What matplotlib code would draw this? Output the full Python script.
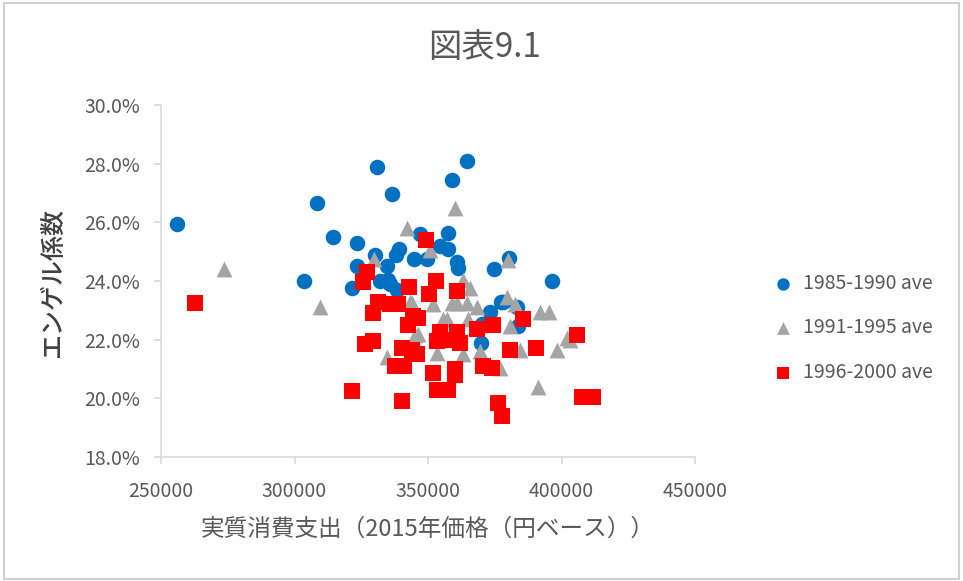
import matplotlib
matplotlib.use("Agg")
import matplotlib.pyplot as plt
from matplotlib.patches import Rectangle
from matplotlib.ticker import FuncFormatter

plt.rcParams['font.family'] = ['Noto Sans CJK JP', 'DejaVu Sans']

# 実質消費支出 (円) と エンゲル係数 (%)
x_8590 = [256000, 303600, 308300, 314300, 323300, 323300, 321500, 330800, 336600,
          330300, 338000, 334700, 332000, 335100, 335800, 338300, 344800, 349500,
          347000, 357400, 354500, 357600, 364500, 359100, 360900, 361300, 380500,
          374600, 396300, 377500, 383300, 373200, 369800, 370100, 378200, 383800,
          339100]
y_8590 = [25.95, 24.0, 26.65, 25.5, 25.3, 24.5, 23.75, 27.9, 26.95,
          24.9, 24.9, 24.5, 24.0, 24.05, 23.9, 23.7, 24.75, 24.75,
          25.6, 25.65, 25.2, 25.1, 28.1, 27.45, 24.65, 24.45, 24.8,
          24.4, 24.0, 23.3, 23.1, 22.95, 21.9, 22.55, 23.3, 22.45,
          25.1]

x_9195 = [273600, 309700, 329800, 342200, 360100, 350700, 363200, 365700, 380100,
          343900, 352000, 358900, 364500, 368200, 379500, 382600, 392000, 395400,
          346400, 334800, 353200, 363200, 384500, 398200, 401900, 391300, 345100,
          357000, 365100, 380700, 369500, 345700, 343300, 355700, 360700, 377000,
          403200]
y_9195 = [24.4, 23.1, 24.75, 25.8, 26.5, 25.05, 24.05, 23.75, 24.7,
          23.25, 23.2, 23.25, 23.25, 23.1, 23.45, 23.2, 22.95, 22.95,
          22.2, 21.4, 21.55, 21.5, 21.65, 21.65, 22.05, 20.4, 22.15,
          22.7, 22.7, 22.45, 21.6, 21.55, 23.3, 22.7, 23.25, 21.05,
          22.0]

x_9600 = [262700, 327000, 325700, 343000, 349300, 353000, 350300, 361000, 331400,
          335800, 338900, 329300, 346400, 342600, 344500, 326400, 329500, 340100,
          343900, 345700, 337600, 341000, 354500, 360700, 353200, 359500, 362000,
          368200, 374500, 385600, 405700, 380700, 390400, 352000, 360100, 360100,
          370700, 373800, 353200, 357400, 321600, 340300, 376300, 377600, 407600,
          411900]
y_9600 = [23.25, 24.3, 23.95, 23.8, 25.4, 24.0, 23.55, 23.65, 23.3,
          23.2, 23.2, 22.9, 22.75, 22.5, 22.8, 21.85, 21.95, 21.7,
          21.65, 21.5, 21.1, 21.1, 22.25, 22.25, 21.95, 22.0, 21.9,
          22.35, 22.5, 22.7, 22.15, 21.65, 21.7, 20.85, 21.0, 20.8,
          21.1, 21.05, 20.3, 20.3, 20.25, 19.9, 19.85, 19.4, 20.05,
          20.05]

series_labels = ["1985-1990 ave", "1991-1995 ave", "1996-2000 ave"]
x_ticks = [250000, 300000, 350000, 400000, 450000]
y_ticks = [18, 20, 22, 24, 26, 28, 30]

TEXT = "#595959"
AXIS = "#d9d9d9"

fig = plt.figure(figsize=(9.63, 5.81), dpi=100)
fig.patches.append(Rectangle((0.004, 0.004), 0.992, 0.99, transform=fig.transFigure,
                             fill=False, edgecolor="#d0d0d0", linewidth=1.5))

ax = fig.add_axes([0.1672, 0.2134, 0.5545, 0.6059])

ax.scatter(x_8590, y_8590, s=125, marker='o', color="#0070C0", linewidths=0,
           label=series_labels[0], zorder=3)
ax.scatter(x_9195, y_9195, s=130, marker='^', color="#A5A5A5", linewidths=0,
           label=series_labels[1], zorder=3)
ax.scatter(x_9600, y_9600, s=120, marker='s', color="#FF0000", linewidths=0,
           label=series_labels[2], zorder=3)

ax.set_xlim(x_ticks[0], x_ticks[-1])
ax.set_ylim(y_ticks[0], y_ticks[-1])
ax.set_xticks(x_ticks)
ax.set_yticks(y_ticks)
ax.yaxis.set_major_formatter(FuncFormatter(lambda v, p: f"{v:.1f}%"))
ax.xaxis.set_major_formatter(FuncFormatter(lambda v, p: f"{int(v)}"))

for side in ("top", "right"):
    ax.spines[side].set_visible(False)
for side in ("left", "bottom"):
    ax.spines[side].set_color(AXIS)
    ax.spines[side].set_linewidth(1.2)
ax.tick_params(axis='both', colors=AXIS, labelcolor=TEXT, labelsize=14,
               length=5, width=1.2, direction='out')
ax.tick_params(axis='x', pad=12)
ax.tick_params(axis='y', pad=10)

# axis titles
fig.text(428 / 963, 1 - 529 / 581, "実質消費支出（2015年価格（円ベース））",
         ha='center', va='center', color=TEXT, fontsize=17)
fig.text(53 / 963, 1 - 283 / 581, "エンゲル係数", rotation=90,
         ha='center', va='center', color="#404040", fontsize=18, fontweight='medium')

fig.text(484 / 963, 1 - 48 / 581, "図表9.1", ha='center', va='center',
         fontsize=24, color=TEXT)

leg = fig.legend(loc='center left', bbox_to_anchor=(764 / 963, 1 - 328 / 581),
                 frameon=False, fontsize=14, labelcolor=TEXT, markerscale=0.8,
                 handletextpad=0.0, labelspacing=1.2, borderaxespad=0,
                 borderpad=0)

fig.savefig("out.png", dpi=100)
